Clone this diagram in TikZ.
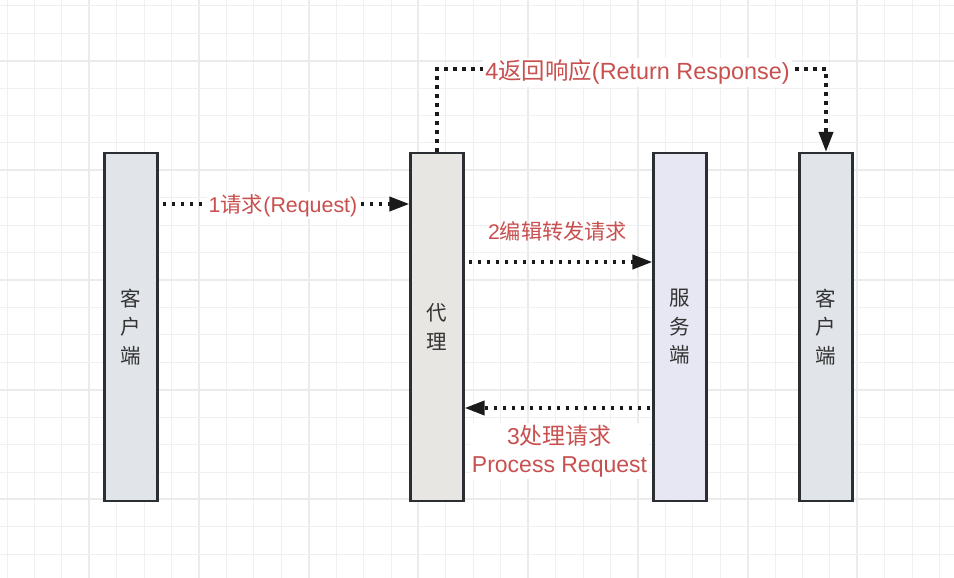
\documentclass[tikz,border=0pt]{standalone}
\usepackage{fontspec}
\setmainfont{Liberation Sans}
\newfontfamily\cjk{Noto Sans CJK SC}
\usetikzlibrary{arrows.meta}
\definecolor{gridminor}{HTML}{F0F0F0}
\definecolor{gridmajor}{HTML}{EBEBEB}
\definecolor{boxline}{HTML}{2B2F33}
\definecolor{clientfill}{HTML}{E1E5E9}
\definecolor{proxyfill}{HTML}{E8E6E3}
\definecolor{serverfill}{HTML}{E6E7F2}
\definecolor{labelred}{HTML}{C8504F}
\definecolor{boxtext}{HTML}{333333}
\definecolor{arrowcol}{HTML}{1A1A1A}
\tikzset{
  lifebox/.style={draw=boxline, line width=2.2bp, minimum width=53bp, minimum height=348bp,
    inner sep=0pt, align=center, text=boxtext,
    font=\cjk\fontsize{20.5bp}{28.5bp}\selectfont},
  dotarrow/.style={draw=arrowcol, line width=3.8bp, line cap=butt, dash pattern=on 3.8bp off 5.2bp,
    -{Triangle[length=20bp,width=14bp,fill=arrowcol]}},
  lbl/.style={text=labelred, inner xsep=2bp, inner ysep=2bp, align=center},
}
\begin{document}
\begin{tikzpicture}[x=1bp,y=-1bp]
\useasboundingbox (0,0) rectangle (954,578);
\fill[white] (0,0) rectangle (954,578);
% grid
\foreach \i in {0,...,34}{
  \pgfmathtruncatemacro\m{mod(\i,4)}
  \ifnum\m=3
    \pgfmathsetmacro\xx{round(7+\i*27.43)}
    \draw[gridmajor, line width=2bp] (\xx,0) -- (\xx,578);
  \else
    \pgfmathsetmacro\xx{floor(7+\i*27.43)+0.5}
    \draw[gridminor, line width=1bp] (\xx,0) -- (\xx,578);
  \fi
}
\foreach \i in {0,...,21}{
  \pgfmathtruncatemacro\m{mod(\i,4)}
  \ifnum\m=2
    \pgfmathsetmacro\yy{round(5.9+\i*27.42)}
    \draw[gridmajor, line width=2bp] (0,\yy) -- (954,\yy);
  \else
    \pgfmathsetmacro\yy{floor(5.9+\i*27.42)+0.5}
    \draw[gridminor, line width=1bp] (0,\yy) -- (954,\yy);
  \fi
}
% lifeline boxes
\node[lifebox, fill=clientfill] (client) at (131,327) {客\\户\\端};
\node[lifebox, fill=proxyfill] (proxy) at (437,327) {代\\理};
\node[lifebox, fill=serverfill] (server) at (680,327) {服\\务\\端};
\node[lifebox, fill=clientfill] (client2) at (826,327) {客\\户\\端};
% helper coordinates
\coordinate (y1) at (0,204);
\coordinate (y2) at (0,262);
\coordinate (y3) at (0,408);
\coordinate (y4) at (0,69);
% arrow 1
\draw[dotarrow] ([xshift=4bp]client.east |- y1) -- (proxy.west |- y1);
\node[lbl, fill=white, font=\fontsize{21.4bp}{26bp}\selectfont] (l1) at (283,205.5) {1{\cjk 请求}(Request)};
% arrow 2
\draw[dotarrow] ([xshift=4bp]proxy.east |- y2) -- (server.west |- y2);
\node[lbl, font=\fontsize{21.2bp}{26bp}\selectfont] (l2) at (557.5,231.5) {2{\cjk 编辑转发请求}};
% arrow 3
\draw[dotarrow] ([xshift=-2bp]server.west |- y3) -- (proxy.east |- y3);
\node[lbl, fill=white, font=\fontsize{23bp}{28.5bp}\selectfont] (l3) at (559.5,451) {3{\cjk 处理请求}\\Process Request};
% arrow 4
\draw[dotarrow] (proxy.north) -- (proxy.north |- y4) -- (client2.north |- y4) -- (client2.north);
\node[lbl, fill=white, font=\fontsize{23.4bp}{28bp}\selectfont] (l4) at (637.5,72.5) {4{\cjk 返回响应}(Return Response)};
\end{tikzpicture}
\end{document}
